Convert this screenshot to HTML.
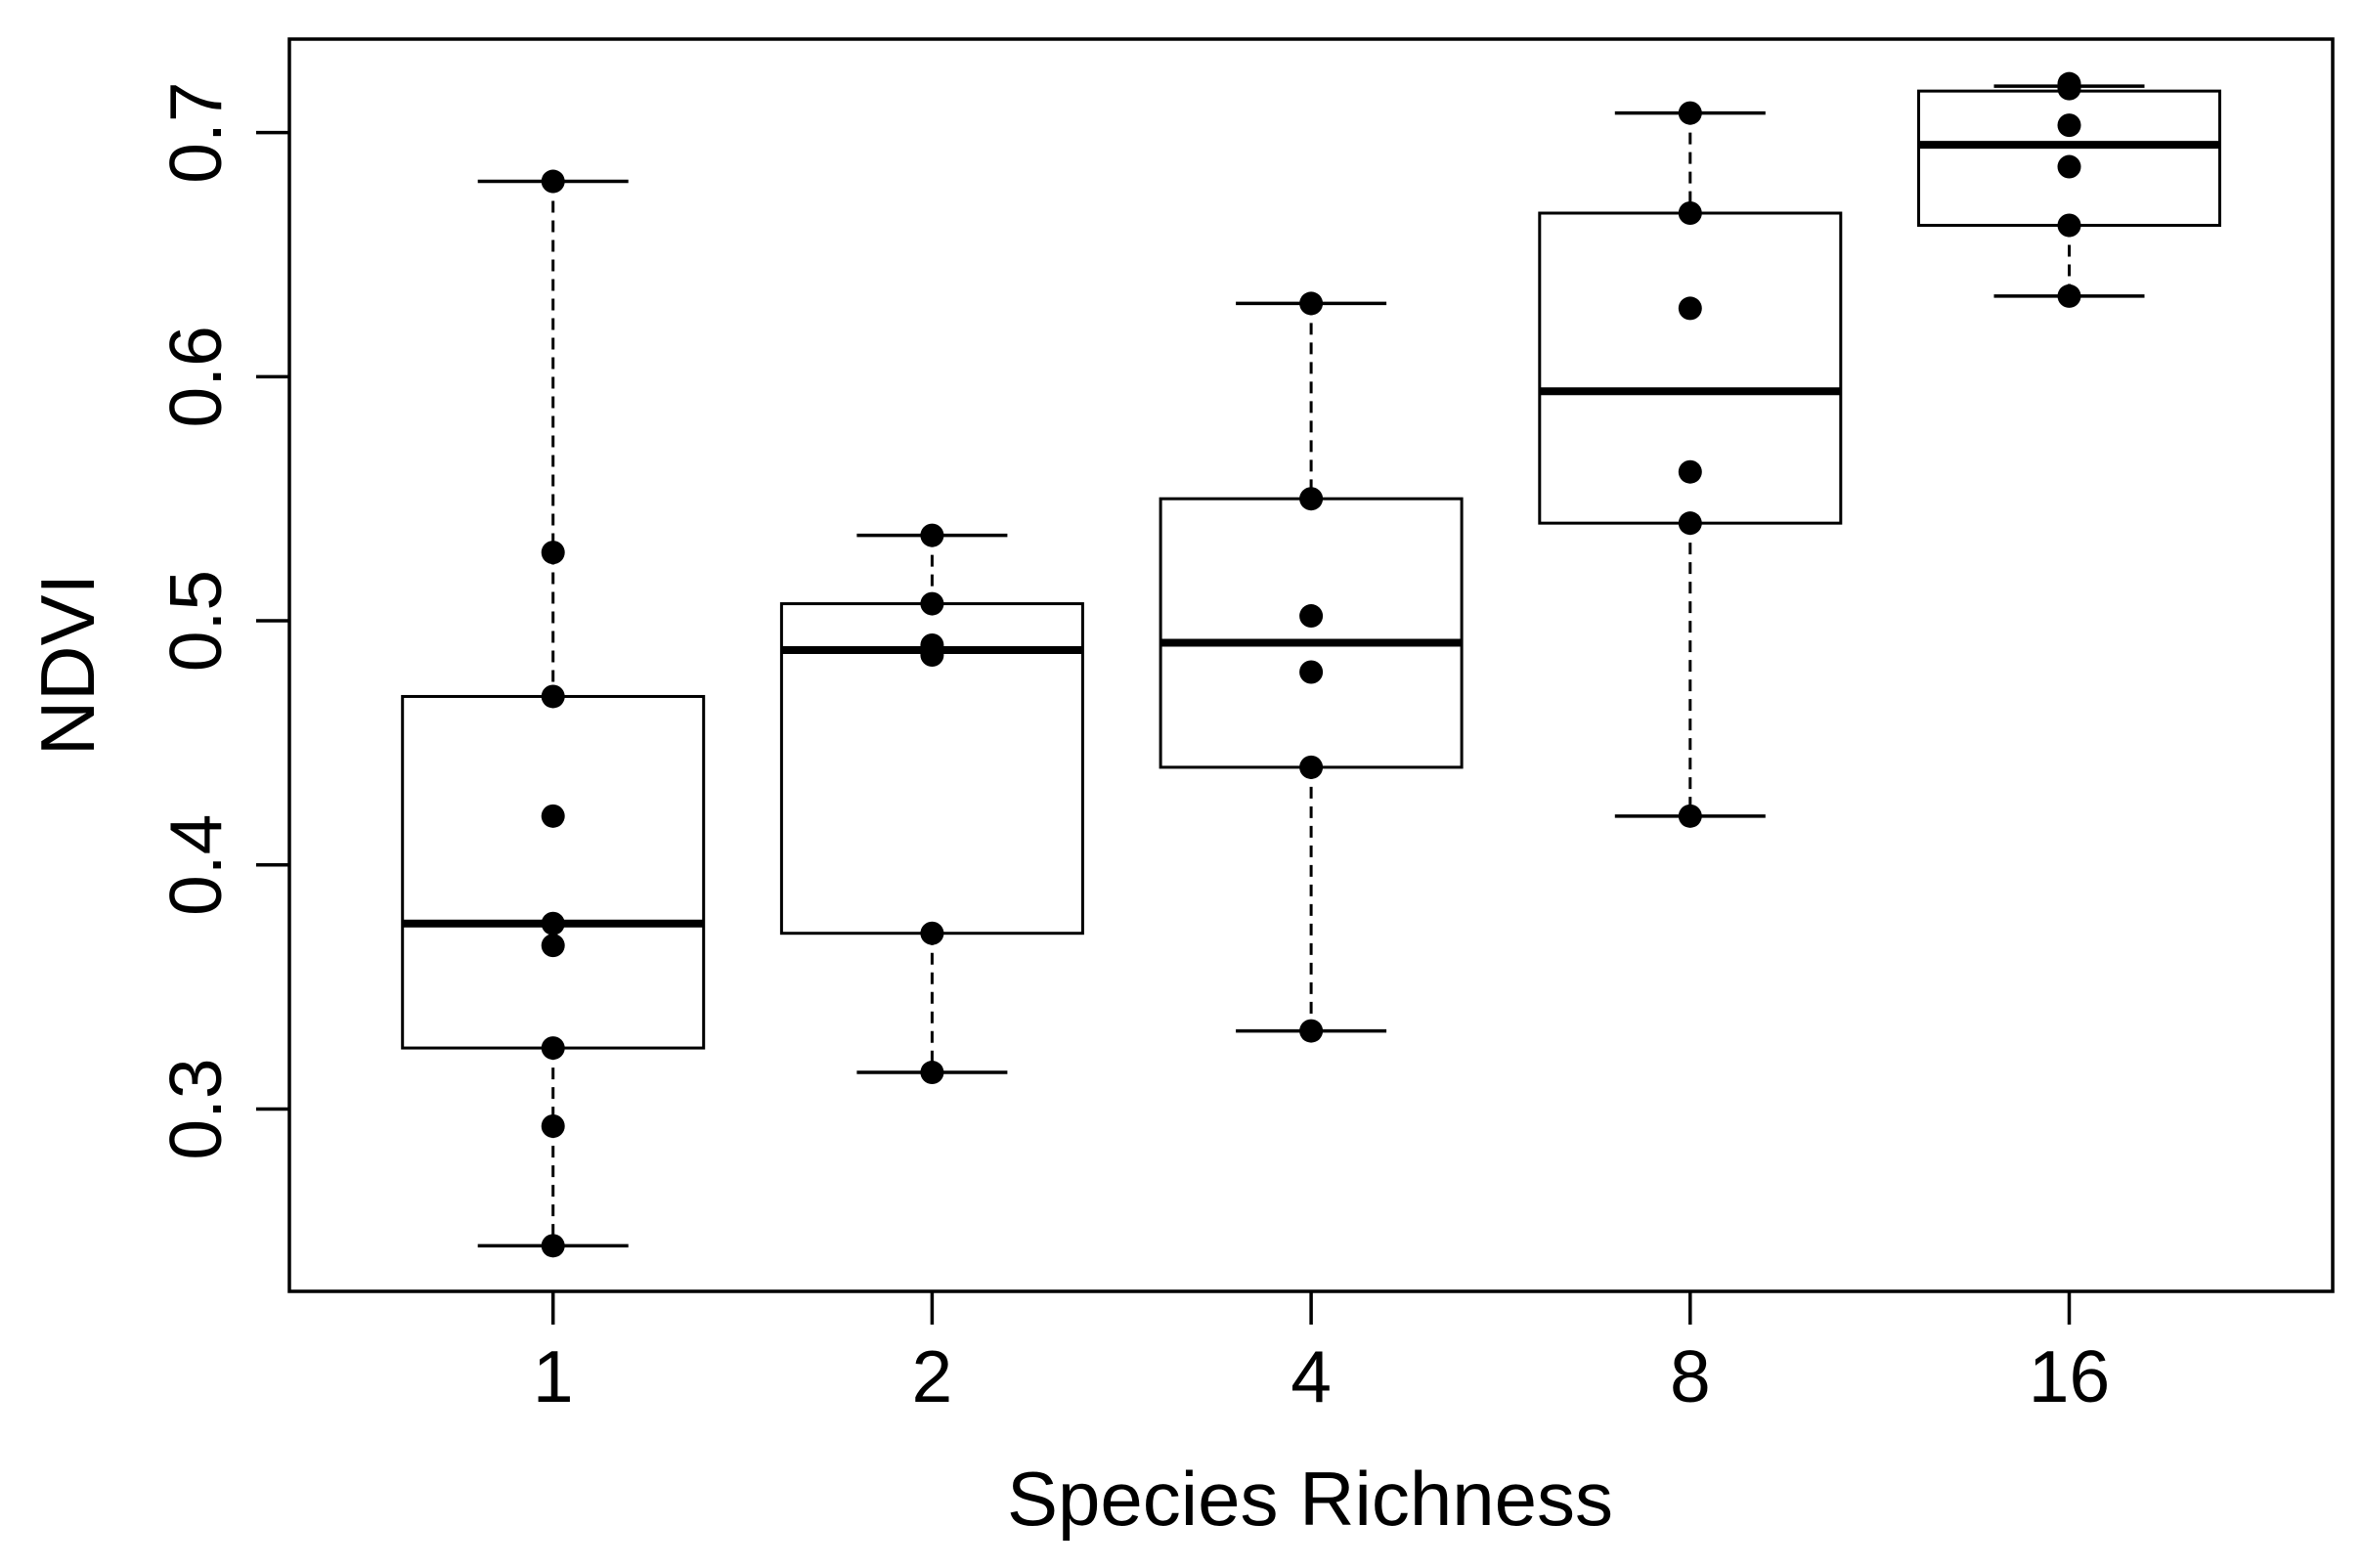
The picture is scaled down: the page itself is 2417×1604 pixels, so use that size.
<!DOCTYPE html>
<html><head><meta charset="utf-8"><style>body{margin:0;background:#fff}svg{display:block}</style></head>
<body>
<svg id="chart" width="2417" height="1604" xmlns="http://www.w3.org/2000/svg" font-family="Liberation Sans, sans-serif"></svg>
<script>
const categories = ["1","2","4","8","16"];
const points = [
  [0.680,0.528,0.469,0.420,0.376,0.367,0.325,0.293,0.244],
  [0.535,0.507,0.490,0.486,0.372,0.315],
  [0.630,0.550,0.502,0.479,0.440,0.332],
  [0.708,0.667,0.628,0.561,0.540,0.420],
  [0.720,0.718,0.703,0.686,0.662,0.633]
];
const q1 = [0.325,0.372,0.440,0.540,0.662];
const medians = [0.376,0.488,0.491,0.594,0.695];
const q3 = [0.469,0.507,0.550,0.667,0.717];
const whiskLo = [0.244,0.315,0.332,0.420,0.633];
const whiskHi = [0.680,0.535,0.630,0.708,0.719];
const yTicks = [0.3,0.4,0.5,0.6,0.7];

const NS="http://www.w3.org/2000/svg";
const svg=document.getElementById('chart');
const y=v=>1134.5-(v-0.3)*2497.25;
const x=i=>565.7+i*387.7;
function mk(t,a,p){const e=document.createElementNS(NS,t);for(const k in a)e.setAttribute(k,a[k]);(p||svg).appendChild(e);return e;}
const frame=mk('rect',{x:296,y:40,width:2090,height:1281,fill:'none',stroke:'#000','stroke-width':3.5});


yTicks.forEach(v=>{
  const t=mk('line',{x1:262,x2:296,y1:y(v),y2:y(v),stroke:'#000','stroke-width':3.5});
  
  
  const l=mk('text',{x:0,y:0,'font-size':75,'text-anchor':'middle',transform:`translate(226,${y(v)}) rotate(-90)`});
  l.textContent=v.toFixed(1);
  
  
});
categories.forEach((c,i)=>{
  const cx=x(i);
  const t=mk('line',{x1:cx,x2:cx,y1:1321,y2:1355,stroke:'#000','stroke-width':3.5});
  
  
  const l=mk('text',{x:cx,y:1434,'font-size':75,'text-anchor':'middle'});
  l.textContent=c;
  
  
  const g=mk('g',{});
  
  
  mk('line',{x1:cx,x2:cx,y1:y(whiskHi[i]),y2:y(q3[i]),stroke:'#000','stroke-width':3,'stroke-dasharray':'12 8'},g);
  mk('line',{x1:cx,x2:cx,y1:y(q1[i]),y2:y(whiskLo[i]),stroke:'#000','stroke-width':3,'stroke-dasharray':'12 8'},g);
  mk('line',{x1:cx-77,x2:cx+77,y1:y(whiskHi[i]),y2:y(whiskHi[i]),stroke:'#000','stroke-width':3.5},g);
  mk('line',{x1:cx-77,x2:cx+77,y1:y(whiskLo[i]),y2:y(whiskLo[i]),stroke:'#000','stroke-width':3.5},g);
  mk('rect',{x:cx-154,y:y(q3[i]),width:308,height:y(q1[i])-y(q3[i]),fill:'none',stroke:'#000','stroke-width':3},g);
  mk('line',{x1:cx-154,x2:cx+154,y1:y(medians[i]),y2:y(medians[i]),stroke:'#000','stroke-width':8},g);
  points[i].forEach(v=>{
    const p=mk('circle',{cx:cx,cy:y(v),r:12,fill:'#000'});
    
    
  });
});
const xt=mk('text',{x:1340,y:1560,'font-size':78,'text-anchor':'middle'});
xt.textContent='Species Richness';


const yt=mk('text',{x:0,y:0,'font-size':78,'text-anchor':'middle',transform:'translate(96,680) rotate(-90)'});
yt.textContent='NDVI';


</script>
</body></html>
